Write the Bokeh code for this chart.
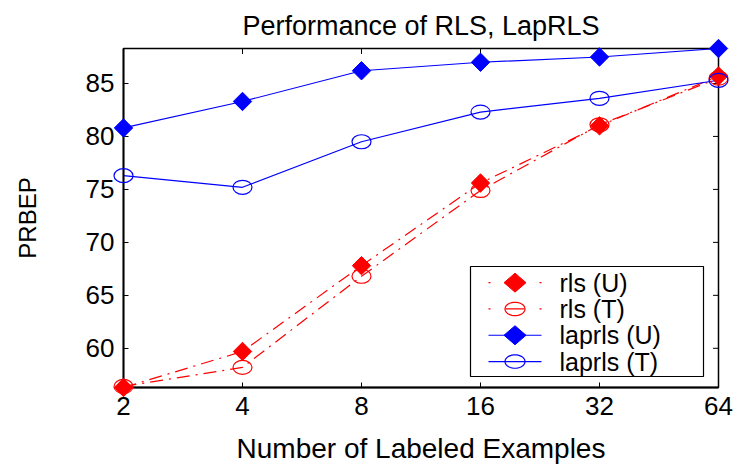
import numpy as np
from bokeh.plotting import figure
from bokeh.models import (FixedTicker, Range1d, PrintfTickFormatter, Label,
                          BoxAnnotation, PolyAnnotation, Arrow)
from bokeh.embed import file_html
from bokeh.resources import INLINE

# Number of labeled examples (log2 x axis)
labeled = [2, 4, 8, 16, 32, 64]
# PRBEP for each method; (U) = unlabeled set, (T) = test set
rls_u = [56.3, 59.7, 67.8, 75.6, 81.0, 85.7]
rls_t = [56.4, 58.2, 66.8, 74.9, 81.1, 85.5]
laprls_u = [80.8, 83.3, 86.2, 87.0, 87.5, 88.3]
laprls_t = [76.3, 75.2, 79.5, 82.3, 83.6, 85.3]
y_ticks = [60, 65, 70, 75, 80, 85]
series_names = ["rls (U)", "rls (T)", "laprls (U)", "laprls (T)"]

FONT = "Liberation Sans"
RED = "#ff0000"
BLUE = "#0000ff"

all_y = rls_u + rls_t + laprls_u + laprls_t
y_lo, y_hi = min(all_y), max(all_y)

p = figure(width=740, height=466, x_axis_type="log",
           x_range=Range1d(labeled[0], labeled[-1]), y_range=Range1d(y_lo, y_hi),
           output_backend="svg", toolbar_location=None,
           min_border_left=123, min_border_right=22,
           min_border_top=48, min_border_bottom=78)

p.title.text = "Performance of RLS, LapRLS"
p.title.align = "center"
p.title.text_font = FONT
p.title.text_font_size = "27px"
p.title.text_font_style = "normal"
p.title.text_color = "black"
p.title.standoff = 15

p.grid.visible = False
p.outline_line_color = "black"
p.outline_line_width = 1.5
p.background_fill_color = "white"
p.border_fill_color = "white"


def style_axis(ax):
    ax.major_tick_in = 5
    ax.major_tick_out = 0
    ax.minor_tick_line_color = None
    ax.axis_line_color = "black"
    ax.axis_line_width = 1.8
    ax.major_tick_line_color = "black"
    ax.major_tick_line_width = 1
    ax.major_label_text_font = FONT
    ax.major_label_text_color = "black"
    ax.major_label_text_font_size = "26px"
    ax.major_label_standoff = 9
    ax.axis_label_text_font = FONT
    ax.axis_label_text_font_style = "normal"
    ax.axis_label_text_color = "black"


xa = p.xaxis[0]
xa.ticker = FixedTicker(ticks=labeled)
xa.formatter = PrintfTickFormatter(format="%d")
style_axis(xa)
xa.axis_label = "Number of Labeled Examples"
xa.axis_label_text_font_size = "28px"
xa.axis_label_standoff = 15

ya = p.yaxis[0]
ya.ticker = FixedTicker(ticks=y_ticks)
style_axis(ya)
ya.axis_label = "PRBEP"
ya.axis_label_text_font_size = "24px"
ya.axis_label_standoff = 42

# inward tick marks on the top and right edges of the box
p.scatter([labeled[-1]] * len(y_ticks), y_ticks, marker="dash", size=11,
          line_color="black", line_width=1)
p.scatter(labeled, [y_hi] * len(labeled), marker="dash", size=11, angle=np.pi / 2,
          line_color="black", line_width=1)

DASHDOT = "13 6 2 6"

p.line(labeled, rls_u, line_color=RED, line_width=1.2, line_dash=DASHDOT)
p.line(labeled, rls_t, line_color=RED, line_width=1.2, line_dash=DASHDOT)
p.line(labeled, laprls_u, line_color=BLUE, line_width=1.2)
p.line(labeled, laprls_t, line_color=BLUE, line_width=1.2)

p.scatter(labeled, rls_u, marker="square", angle=np.pi / 4, size=13,
          fill_color=RED, line_color=RED, level="overlay")
p.ellipse(labeled, rls_t, width=19, height=14, width_units="screen",
          height_units="screen", fill_color=None, line_color=RED,
          line_width=1.2, level="overlay")
p.scatter(labeled, laprls_u, marker="square", angle=np.pi / 4, size=13,
          fill_color=BLUE, line_color=BLUE, level="overlay")
p.ellipse(labeled, laprls_t, width=19, height=14, width_units="screen",
          height_units="screen", fill_color=None, line_color=BLUE,
          line_width=1.2, level="overlay")

# legend, laid out in screen units measured from the frame's lower-left corner
LEG_LEFT, LEG_RIGHT, LEG_BOTTOM, LEG_TOP = 347, 580, 11, 121
ROW_H = 26.3
SAMPLE_X0, SAMPLE_X1 = 365, 418
TEXT_X = 436
mid_x = (SAMPLE_X0 + SAMPLE_X1) / 2

p.add_layout(BoxAnnotation(left=LEG_LEFT, right=LEG_RIGHT, bottom=LEG_BOTTOM,
                           top=LEG_TOP, left_units="screen", right_units="screen",
                           bottom_units="screen", top_units="screen",
                           fill_color="white", fill_alpha=1.0,
                           line_color="black", line_width=1.2, line_alpha=1.0,
                           level="annotation"))

colors = [RED, RED, BLUE, BLUE]
dashes = ["2 15 19 15 2", "2 15 19 15 2", "solid", "solid"]
filled = [True, False, True, False]
theta = np.linspace(0, 2 * np.pi, 41)

for i, name in enumerate(series_names):
    cy = LEG_TOP - 3 - ROW_H / 2 - i * ROW_H
    p.add_layout(Arrow(x_start=SAMPLE_X0, y_start=cy, x_end=SAMPLE_X1, y_end=cy,
                       start_units="screen", end_units="screen", end=None,
                       line_color=colors[i], line_width=1.2, line_dash=dashes[i]))
    if filled[i]:
        xs = [mid_x, mid_x + 11, mid_x, mid_x - 11]
        ys = [cy + 9.5, cy, cy - 9.5, cy]
        p.add_layout(PolyAnnotation(xs=xs, ys=ys, xs_units="screen", ys_units="screen",
                                    fill_color=colors[i], fill_alpha=1.0,
                                    line_color=colors[i], line_alpha=1.0))
    else:
        xs = list(mid_x + 10 * np.cos(theta))
        ys = list(cy + 6.7 * np.sin(theta))
        p.add_layout(PolyAnnotation(xs=xs, ys=ys, xs_units="screen", ys_units="screen",
                                    fill_alpha=0.0, line_color=colors[i],
                                    line_alpha=1.0, line_width=1.2))
    p.add_layout(Label(x=TEXT_X, y=cy, x_units="screen", y_units="screen", text=name,
                       text_font=FONT, text_font_size="25px", text_color="black",
                       text_baseline="middle"))

open("out.html", "w").write(file_html(p, INLINE))
